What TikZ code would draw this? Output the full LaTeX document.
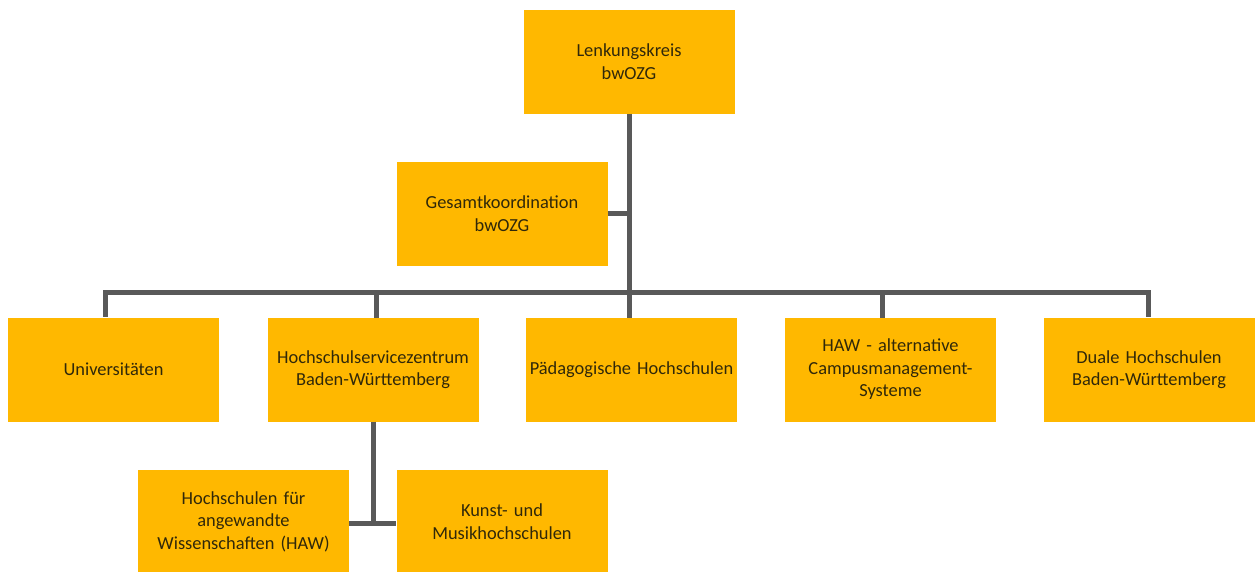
\documentclass[tikz,border=0pt]{standalone}
\usepackage{fontspec}
\setmainfont{Carlito}
\definecolor{boxfill}{HTML}{FFB800}
\definecolor{linegray}{HTML}{595959}
\definecolor{txt}{HTML}{30280A}
\tikzset{
  orgbox/.style={draw=none, fill=boxfill, minimum width=211pt, minimum height=104pt, inner sep=2pt,
    align=center, text=txt, font=\fontsize{18.4pt}{22.5pt}\selectfont, text width=207pt},
  conn/.style={draw=linegray, line width=5pt}
}
\begin{document}
\begin{tikzpicture}[x=1pt,y=-1pt]
\useasboundingbox (0,0) rectangle (1256,571);
\node[orgbox] (lk) at (629,61.5) {Lenkungskreis\\bwOZG};
\node[orgbox] (gk) at (502,213.5) {Gesamtkoordination\\bwOZG};
\node[orgbox] (uni) at (113.5,369.5) {Universitäten};
\node[orgbox] (hsz) at (373,369.5) {Hochschulservicezentrum\\Baden-Württemberg};
\node[orgbox] (ph) at (631.5,369.5) {Pädagogische Hochschulen};
\node[orgbox] (haw) at (890.5,369.5) {HAW - alternative\\Campusmanagement-\\Systeme};
\node[orgbox] (dh) at (1149,369.5) {Duale Hochschulen\\Baden-Württemberg};
\node[orgbox] (hawb) at (243.5,521.5) {Hochschulen für\\angewandte\\Wissenschaften (HAW)};
\node[orgbox] (kmh) at (502,521.5) {Kunst- und\\Musikhochschulen};

\coordinate (bar) at (629,292);
\coordinate (barL) at (105,292);
\coordinate (barR) at (1148,292);
\coordinate (hswJ) at (373,523);

\draw[conn] (lk.south) -- (lk.south |- bar);
\draw[conn] (gk.east) -- (gk.east -| lk.south);
\draw[conn,line cap=rect] (barL) -- (barR);
\draw[conn] (barL) -- (barL |- uni.north);
\draw[conn] (376,292) -- (376,318);
\draw[conn] (bar) -- (629,318);
\draw[conn] (882,292) -- (882,318);
\draw[conn] (barR) -- (barR |- dh.north);
\draw[conn] (hsz.south) -- (hswJ);
\draw[conn] (hawb.east |- hswJ) -- (kmh.west |- hswJ);
\end{tikzpicture}
\end{document}
